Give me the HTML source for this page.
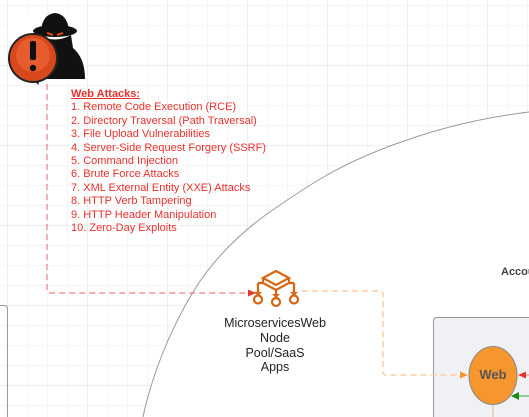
<!DOCTYPE html>
<html><head><meta charset="utf-8"><style>
html,body{margin:0;padding:0;}
body{width:529px;height:417px;overflow:hidden;position:relative;background:#fff;font-family:"Liberation Sans",sans-serif;}
.t{position:absolute;white-space:nowrap;}
</style></head><body>
<svg width="529" height="417" viewBox="0 0 529 417" style="position:absolute;left:0;top:0;overflow:hidden">
<defs>
<pattern id="g" x="7" y="5" width="20" height="20" patternUnits="userSpaceOnUse">
<path d="M0 0H20M0 0V20" stroke="#ebebeb" stroke-width="1" fill="none"/>
</pattern>
<pattern id="G" x="7" y="-15" width="80" height="80" patternUnits="userSpaceOnUse">
<path d="M0 0H80M0 0V80" stroke="#dcdcdc" stroke-width="1" fill="none"/>
</pattern>
</defs>
<rect width="529" height="417" fill="url(#g)"/>
<rect width="529" height="417" fill="url(#G)"/>
<path d="M143,417 C152,375 170,330 193,292 C215,256 245,228 280,205 C296,194 311,184 327,175 C352,161 380,149 407,140 C447,126 488,117 529,112 L529,417 Z" fill="#fff" stroke="none"/>
<path d="M143,417 C152,375 170,330 193,292 C215,256 245,228 280,205 C296,194 311,184 327,175 C352,161 380,149 407,140 C447,126 488,117 529,112" fill="none" stroke="#999" stroke-width="1"/>
<path d="M0,305.5 H4 Q7.5,305.5 7.5,309 V417" fill="none" stroke="#999"/>
<path d="M529,317.5 H437 Q433.5,317.5 433.5,321 V417 H529 Z" fill="#f0f1f4" stroke="none"/>
<path d="M529,317.5 H437 Q433.5,317.5 433.5,321 V417" fill="none" stroke="#999"/>
<path d="M47,84 V290 Q47,293 50,293 H248" fill="none" stroke="#f08080" stroke-width="1.2" stroke-dasharray="6,4"/>
<polygon points="256,293 248,289.5 248,296.5" fill="#e8322e"/>
<path d="M302,291 H380 Q383,291 383,294 V372 Q383,375 386,375 H460" fill="none" stroke="#fbcfa3" stroke-width="1.5" stroke-dasharray="6,4"/>
<polygon points="468,375 460,371.5 460,378.5" fill="#f7962f"/>
<line x1="493" y1="405" x2="493" y2="417" stroke="#e9b48a"/>
<line x1="525" y1="375" x2="529" y2="375" stroke="#f08080"/>
<polygon points="518,375 526,371.5 526,378.5" fill="#e8322e"/>
<line x1="519" y1="396" x2="529" y2="396" stroke="#3aa63a"/>
<polygon points="511,396 519,392 519,400" fill="#1a8a1a"/>
<ellipse cx="493" cy="375.5" rx="24" ry="29" fill="#f7962f" stroke="#888"/>
<g fill="none" stroke="#d86613" stroke-width="2.2">
<path d="M263,278 L276,271 L289,278 L276,285 Z"/>
<path d="M263,278 V283 L276,290 L289,283 V278"/>
<path d="M258,283 H263 M289,283 H294 M258,283 V294 M294,283 V294 M276,290 V296"/>
<circle cx="258" cy="299.5" r="4"/>
<circle cx="276" cy="302" r="4"/>
<circle cx="294" cy="299.5" r="4"/>
</g>
<g fill="#d86613">
<polygon points="254,292 262,292 258,296"/>
<polygon points="290,292 298,292 294,296"/>
<polygon points="272,294 280,294 276,298"/>
</g>
<rect x="8" y="14" width="77" height="70" fill="#fff"/>
<g fill="#111">
<ellipse cx="55" cy="31" rx="22" ry="6"/>
<path d="M41,30 Q43,14 55,13 Q67,14 69,30 Z"/>
<path d="M39,35 Q55,44 71,35 L73,48 Q85,58 85,79 L28,79 Q30,55 39,48 Z"/>
</g>
<path d="M47,33 L53,35 M63,33 L57,35" stroke="#e04a10" stroke-width="2"/>
<path d="M26,72 L38,84 L40,74 Z" fill="#c0361b" stroke="#222" stroke-width="1"/>
<circle cx="33" cy="58" r="24" fill="#d9481d" stroke="#222" stroke-width="2"/>
<circle cx="33" cy="55" r="17" fill="#ef6a3a" opacity=".6"/>
<rect x="30" y="41" width="6" height="19" rx="2" fill="#111"/>
<circle cx="33" cy="68" r="3.2" fill="#111"/>
</svg>
<div class="t" style="left:71px;top:88px;font-size:11px;line-height:13.4px;color:#e8322e;">
<div style="font-weight:bold;text-decoration:underline;">Web Attacks:</div>
<div>1. Remote Code Execution (RCE)</div>
<div>2. Directory Traversal (Path Traversal)</div>
<div>3. File Upload Vulnerabilities</div>
<div>4. Server-Side Request Forgery (SSRF)</div>
<div>5. Command Injection</div>
<div>6. Brute Force Attacks</div>
<div>7. XML External Entity (XXE) Attacks</div>
<div>8. HTTP Verb Tampering</div>
<div>9. HTTP Header Manipulation</div>
<div>10. Zero-Day Exploits</div>
</div>
<div class="t" style="left:215px;top:316px;width:120px;text-align:center;font-size:12.5px;line-height:14.8px;color:#222;">MicroservicesWeb<br>Node<br>Pool/SaaS<br>Apps</div>
<div class="t" style="left:470px;top:367px;width:46px;text-align:center;font-size:13px;font-weight:bold;color:#555;">Web</div>
<div class="t" style="left:501px;top:266px;width:28px;overflow:hidden;font-size:11px;font-weight:bold;color:#444;">Account</div>
</body></html>
